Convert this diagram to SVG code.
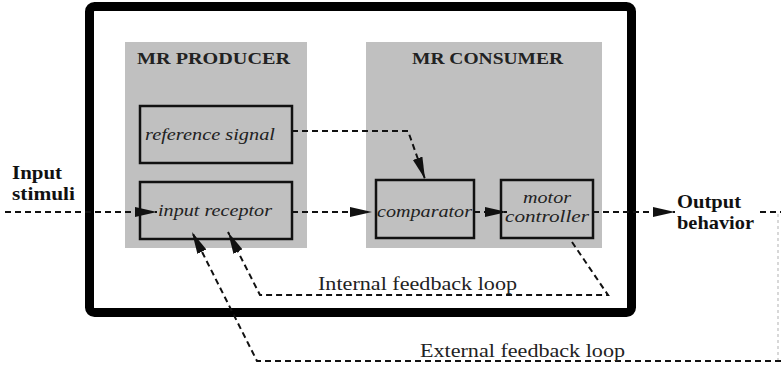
<svg xmlns="http://www.w3.org/2000/svg" width="781" height="366" viewBox="0 0 781 366">
<style>
.panel{fill:#c0c0c0;}
.box{fill:#c0c0c0;stroke:#111;stroke-width:2.5;}
.ptitle{font-family:"Liberation Serif","DejaVu Serif",serif;font-weight:bold;font-size:17px;fill:#222;}
.itxt{font-family:"Liberation Serif","DejaVu Serif",serif;font-style:italic;font-size:17px;fill:#222;}
.btxt{font-family:"Liberation Serif","DejaVu Serif",serif;font-weight:bold;font-size:19px;fill:#111;}
.ltxt{font-family:"Liberation Serif","DejaVu Serif",serif;font-size:18px;fill:#222;}
.dash{fill:none;stroke:#111;stroke-width:2;stroke-dasharray:6 4;}
</style>
<defs>
<marker id="ah" markerUnits="userSpaceOnUse" markerWidth="24" markerHeight="12" refX="22" refY="5" orient="auto">
<path d="M0,0 L22,5 L0,10 Z" fill="#111"/>
</marker>
</defs>
<rect x="89.5" y="6.5" width="542" height="306" rx="5" fill="#fff" stroke="#000" stroke-width="9"/>
<g id="producer">
<rect class="panel" x="125" y="42" width="182" height="206"/>
<text class="ptitle" x="137" y="64" textLength="153" lengthAdjust="spacingAndGlyphs">MR  PRODUCER</text>
</g>
<g id="consumer">
<rect class="panel" x="366" y="42" width="236" height="206"/>
<text class="ptitle" x="412" y="64" textLength="151" lengthAdjust="spacingAndGlyphs">MR CONSUMER</text>
</g>
<g id="reference-signal">
<rect class="box" x="140" y="106" width="152" height="57"/>
<text class="itxt" x="145" y="140" textLength="130" lengthAdjust="spacingAndGlyphs">reference signal</text>
</g>
<g id="input-receptor">
<rect class="box" x="140" y="182" width="152" height="57"/>
<text class="itxt" x="158" y="216" textLength="114" lengthAdjust="spacingAndGlyphs">input receptor</text>
</g>
<g id="comparator">
<rect class="box" x="376" y="180" width="98" height="58"/>
<text class="itxt" x="377" y="217" textLength="95" lengthAdjust="spacingAndGlyphs">comparator</text>
</g>
<g id="motor-controller">
<rect class="box" x="501" y="180" width="92" height="58"/>
<text class="itxt" x="523" y="203" textLength="48" lengthAdjust="spacingAndGlyphs">motor</text>
<text class="itxt" x="505" y="222" textLength="84" lengthAdjust="spacingAndGlyphs">controller</text>
</g>
<g id="input-stimuli">
<text class="btxt" x="12" y="179" textLength="50" lengthAdjust="spacingAndGlyphs">Input</text>
<text class="btxt" x="12" y="200" textLength="63" lengthAdjust="spacingAndGlyphs">stimuli</text>
</g>
<g id="output-behavior">
<text class="btxt" x="677" y="208" textLength="64" lengthAdjust="spacingAndGlyphs">Output</text>
<text class="btxt" x="677" y="229" textLength="77" lengthAdjust="spacingAndGlyphs">behavior</text>
</g>
<g id="connectors">
<path class="dash" d="M5,212 L157,212" marker-end="url(#ah)"/>
<path class="dash" d="M292,212 L372,212" marker-end="url(#ah)"/>
<path class="dash" d="M474,212 L507,212" marker-end="url(#ah)"/>
<path class="dash" d="M593,212 L675,212" marker-end="url(#ah)"/>
<path class="dash" d="M292,131 L408,131 L425,179" marker-end="url(#ah)"/>
<path class="dash" d="M572,242 L608,295 L260,295 L228,232" marker-end="url(#ah)"/>
<path class="dash" d="M760,212 L781,212"/>
<path d="M778,214 L778,360" fill="none" stroke="#ccc" stroke-width="1.5" stroke-dasharray="3 3"/>
<path class="dash" d="M781,361 L257,361 L192,232" marker-end="url(#ah)"/>
<text class="ltxt" x="318" y="290" textLength="199" lengthAdjust="spacingAndGlyphs">Internal  feedback loop</text>
<text class="ltxt" x="420" y="357" textLength="205" lengthAdjust="spacingAndGlyphs">External  feedback loop</text>
</g>
</svg>
